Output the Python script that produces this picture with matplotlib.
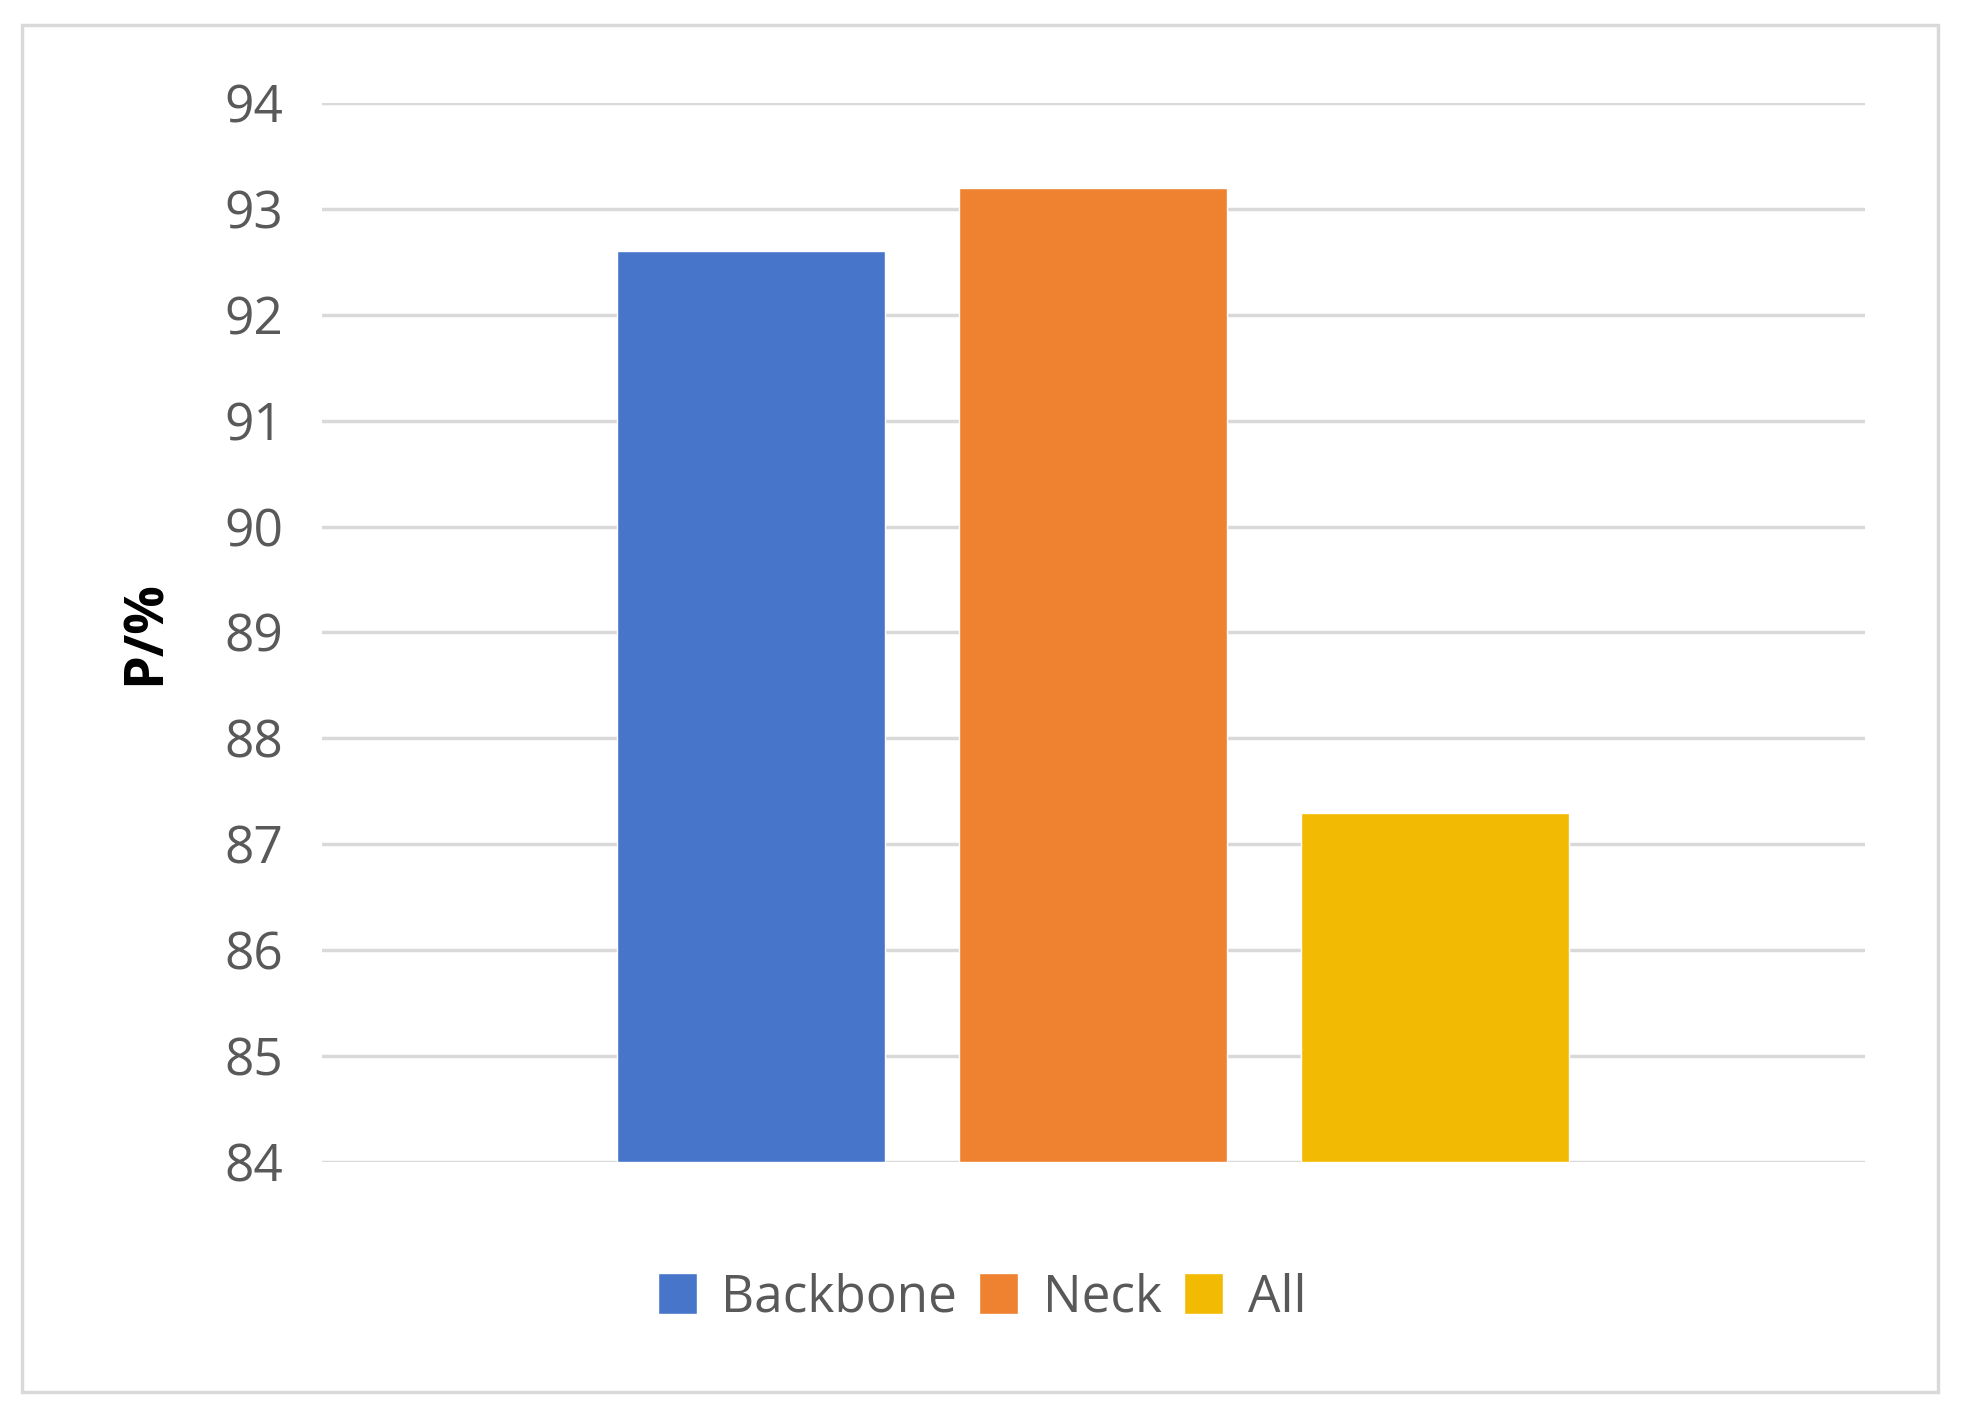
import matplotlib.pyplot as plt
from matplotlib.patches import Rectangle

# данные
series = ['Backbone', 'Neck', 'All']
values = [92.6, 93.2, 87.3]
colors = ['#4775CA', '#EE8230', '#F2BA02']
yticks = [84, 85, 86, 87, 88, 89, 90, 91, 92, 93, 94]

plt.rcParams['font.family'] = ['Open Sans', 'DejaVu Sans']

fig = plt.figure(figsize=(19.63, 14.20), dpi=100)
ax = fig.add_axes([0.164, 0.1817, 0.786, 0.7458])

# рамка вокруг всей диаграммы
fig.patches.append(Rectangle((22 / 1963, 28 / 1420), 1916 / 1963, 1367 / 1420,
                             transform=fig.transFigure, fill=False,
                             edgecolor='#D9D9D9', linewidth=2.5))

offset = 0.2216
width = 0.1737
for i, (name, v, c) in enumerate(zip(series, values, colors)):
    x = (i - 1) * offset
    ax.bar(x, v - yticks[0], width=width, bottom=yticks[0], color=c,
           edgecolor='white', linewidth=1, label=name, zorder=3)

ax.set_xlim(-0.5, 0.5)
ax.set_ylim(yticks[0], yticks[-1])
ax.set_yticks(yticks)
ax.set_yticklabels([str(t) for t in yticks])
ax.set_xticks([])
ax.grid(axis='y', color='#D9D9D9', linewidth=2.5, zorder=0)
ax.tick_params(axis='y', length=0, pad=28, labelsize=37, labelcolor='#595959')
for s in ax.spines.values():
    s.set_visible(False)

ax.set_ylabel('P/%', fontsize=39, fontweight='bold', color='black')
ax.yaxis.set_label_coords(-0.097, 0.5)

fig.legend(loc='center', bbox_to_anchor=(982 / 1963, 1 - 1298 / 1420), ncol=3,
           frameon=False, fontsize=37, labelcolor='#595959',
           handlelength=0.76, handleheight=0.85, handletextpad=0.48,
           columnspacing=0.43)

plt.savefig('out.png', dpi=100)
